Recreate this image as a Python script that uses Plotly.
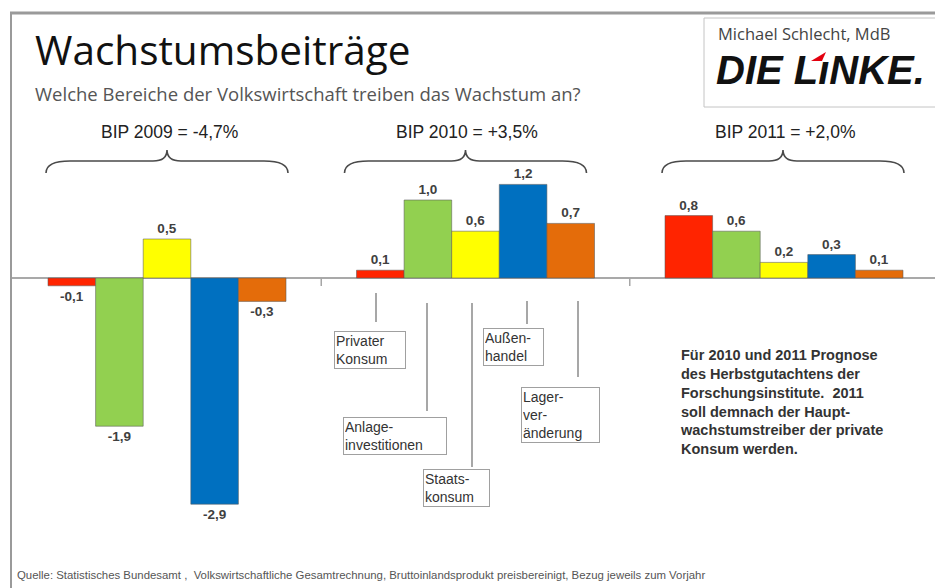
import plotly.graph_objects as go

# ---------------- data ----------------
years = [0, 1, 2]  # 2009, 2010, 2011
bip_labels = ["BIP 2009 = -4,7%", "BIP 2010 = +3,5%", "BIP 2011 = +2,0%"]
components = ["Privater Konsum", "Anlageinvestitionen", "Staatskonsum", "Außenhandel", "Lagerveränderung"]
privater_konsum = [-0.1, 0.1, 0.8]
anlageinvestitionen = [-1.9, 1.0, 0.6]
staatskonsum = [0.5, 0.6, 0.2]
aussenhandel = [-2.9, 1.2, 0.3]
lagerveraenderung = [-0.3, 0.7, 0.1]
series = [privater_konsum, anlageinvestitionen, staatskonsum, aussenhandel, lagerveraenderung]
colors = ["#FF2400", "#92D050", "#FFFF00", "#0070C0", "#E46C0A"]
box_labels = ["Privater<br>Konsum", "Anlage-<br>investitionen", "Staats-<br>konsum",
              "Außen-<br>handel", "Lager-<br>ver-<br>änderung"]
note_text = ("Für 2010 und 2011 Prognose<br>des Herbstgutachtens der<br>"
             "Forschungsinstitute.  2011<br>soll demnach der Haupt-<br>"
             "wachstumstreiber der private<br>Konsum werden.")
source_text = ("Quelle: Statistisches Bundesamt ,  Volkswirtschaftliche Gesamtrechnung, "
               "Bruttoinlandsprodukt preisbereinigt, Bezug jeweils zum Vorjahr")

# ---------------- layout geometry ----------------
W, H = 935, 588
ML, MR, MT, MB = 12, 0, 20, 20
PW, PH = W - ML - MR, H - MT - MB
ZERO_PX, UNIT_PX = 278, 78.0
GROUP0_PX, GROUP_STEP = 167, 308.5

x0 = -(GROUP0_PX - ML) / GROUP_STEP
x1 = x0 + PW / GROUP_STEP
y1 = (ZERO_PX - MT) / UNIT_PX
y0 = -(H - MB - ZERO_PX) / UNIT_PX


def px(xp):
    return (xp - ML) / PW


def py(yp):
    return (H - MB - yp) / PH


ARIAL = "Liberation Sans, Arial, sans-serif"
SEGOE = "Open Sans, Noto Sans, sans-serif"

fig = go.Figure()
for name, vals, col in zip(components, series, colors):
    fig.add_trace(go.Bar(
        x=years, y=vals, name=name,
        marker=dict(color=col, line=dict(color="rgba(90,90,90,0.55)", width=1)),
        text=[f"{v:.1f}".replace(".", ",") for v in vals],
        textposition="outside", cliponaxis=False,
        textfont=dict(family=ARIAL, size=13.5, color="#404040", weight="bold"),
        hoverinfo="skip",
    ))

shapes = []
annotations = []

# frame
shapes.append(dict(type="line", xref="paper", yref="paper", x0=px(10), x1=px(940),
                   y0=py(13), y1=py(13), line=dict(color="#9a9a9a", width=3)))
shapes.append(dict(type="line", xref="paper", yref="paper", x0=px(11), x1=px(11),
                   y0=py(12), y1=py(600), line=dict(color="#9a9a9a", width=2)))

# logo box
shapes.append(dict(type="rect", xref="paper", yref="paper", x0=px(704), x1=px(945),
                   y0=py(107), y1=py(18), line=dict(color="#c4c4c4", width=1),
                   fillcolor="white"))

# group separator ticks on zero line
for t in [0.5, 1.5]:
    shapes.append(dict(type="line", xref="x", yref="y", x0=t, x1=t, y0=0,
                       y1=-8 / UNIT_PX, line=dict(color="#a6a6a6", width=1.5)))

# braces over groups
brace_centers = [0.0, 1.0 - 10 / GROUP_STEP, 2.0 - 1 / GROUP_STEP]
hw = 121 / GROUP_STEP
yt = (ZERO_PX - 150) / UNIT_PX
ym = (ZERO_PX - 161) / UNIT_PX
ye = (ZERO_PX - 173) / UNIT_PX
re_ = 24 / GROUP_STEP
rc = 14 / GROUP_STEP
for cx in brace_centers:
    xl, xr = cx - hw, cx + hw
    path = (f"M {xl},{ye} Q {xl},{ym} {xl + re_},{ym} L {cx - rc},{ym} "
            f"Q {cx},{ym} {cx},{yt} Q {cx},{ym} {cx + rc},{ym} "
            f"L {xr - re_},{ym} Q {xr},{ym} {xr},{ye}")
    shapes.append(dict(type="path", xref="x", yref="y", path=path,
                       line=dict(color="#4a4a4a", width=1.6)))

for cx, lab in zip([169, 467, 785], bip_labels):
    annotations.append(dict(text=lab, xref="paper", yref="paper", x=px(cx), y=py(132),
                            xanchor="center", yanchor="middle", showarrow=False,
                            font=dict(family=ARIAL, size=17.5, color="#222222")))

# leader lines & category boxes
leaders = [(376, 293, 322), (427, 303, 411), (472, 303, 467), (527, 301, 324), (578, 301, 377)]
for (lx, ly0, ly1) in leaders:
    shapes.append(dict(type="line", xref="paper", yref="paper", x0=px(lx), x1=px(lx),
                       y0=py(ly0), y1=py(ly1), line=dict(color="#8a8a8a", width=1.5)))
boxes = [(334, 331, 406), (343, 417, 447), (423, 469, 490), (483, 328, 544), (521, 387, 600)]
for (bl, bt, br), lab in zip(boxes, box_labels):
    annotations.append(dict(text=lab, xref="paper", yref="paper", x=px(bl), y=py(bt),
                            xanchor="left", yanchor="top", showarrow=False, align="left",
                            width=br - bl - 4,
                            bordercolor="#a0a0a0", borderwidth=1, borderpad=1,
                            bgcolor="white",
                            font=dict(family=ARIAL, size=14, color="#333333")))

# title, subtitle
annotations.append(dict(text="Wachstumsbeiträge", xref="paper", yref="paper", x=px(33), y=py(50),
                        xanchor="left", yanchor="middle", showarrow=False,
                        font=dict(family=SEGOE, size=40.5, color="#111111")))
annotations.append(dict(text="Welche Bereiche der Volkswirtschaft treiben das Wachstum an?",
                        xref="paper", yref="paper", x=px(33), y=py(93),
                        xanchor="left", yanchor="middle", showarrow=False,
                        font=dict(family=SEGOE, size=18.5, color="#555555")))

# logo texts
annotations.append(dict(text="Michael Schlecht, MdB", xref="paper", yref="paper", x=px(716), y=py(33),
                        xanchor="left", yanchor="middle", showarrow=False,
                        font=dict(family=SEGOE, size=16.5, color="#444444")))
annotations.append(dict(text="DIE LıNKE.", xref="paper", yref="paper", x=px(714), y=py(70),
                        xanchor="left", yanchor="middle", showarrow=False,
                        font=dict(family=ARIAL, size=40, color="#111111", weight="bold",
                                  style="italic")))
shapes.append(dict(type="path", xref="paper", yref="paper",
                   path=(f"M {px(811)},{py(61)} L {px(826)},{py(52)} L {px(822)},{py(61)} Z"),
                   fillcolor="#E3000F", line=dict(width=0)))

# note and source
annotations.append(dict(text=note_text, xref="paper", yref="paper", x=px(678), y=py(345),
                        xanchor="left", yanchor="top", showarrow=False, align="left",
                        font=dict(family=ARIAL, size=14.5, color="#333333", weight="bold")))
annotations.append(dict(text=source_text, xref="paper", yref="paper", x=px(15), y=py(575),
                        xanchor="left", yanchor="middle", showarrow=False,
                        font=dict(family=ARIAL, size=11.4, color="#555555")))

fig.update_layout(
    width=W, height=H,
    margin=dict(l=ML, r=MR, t=MT, b=MB, pad=0),
    paper_bgcolor="white", plot_bgcolor="white",
    barmode="group", bargap=1 - 238 / GROUP_STEP, bargroupgap=0,
    showlegend=False,
    xaxis=dict(range=[x0, x1], visible=False, fixedrange=True),
    yaxis=dict(range=[y0, y1], showgrid=False, showticklabels=False, ticks="",
               zeroline=True, zerolinecolor="#a9a9a9", zerolinewidth=2, fixedrange=True),
    shapes=shapes, annotations=annotations,
)

fig.write_html("out.html", config={"displayModeBar": False},
               post_script="document.body.style.margin='0';document.body.style.overflow='hidden';")
